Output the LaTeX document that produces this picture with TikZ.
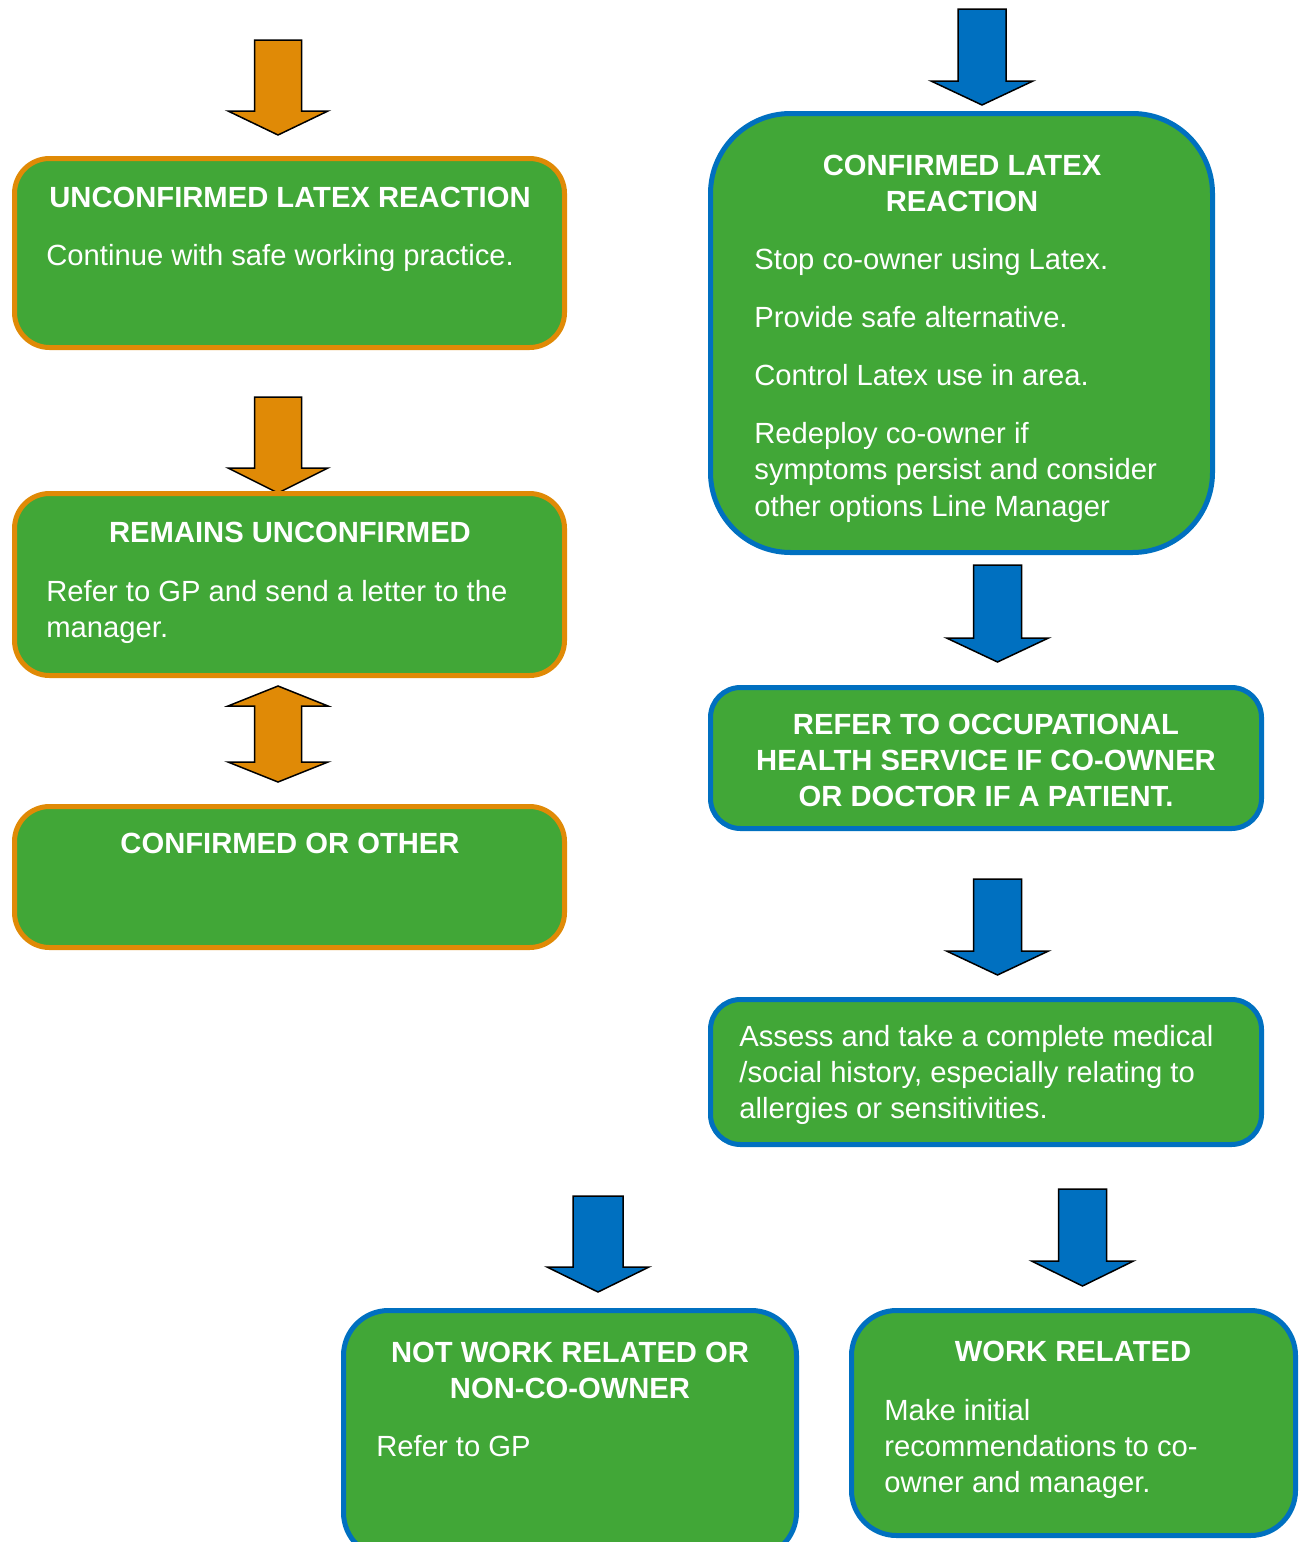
\documentclass[tikz,border=0pt]{standalone}
\usepackage{fontspec}
\setmainfont{Liberation Sans}
\definecolor{boxgreen}{RGB}{65,167,55}
\definecolor{aorange}{RGB}{224,138,6}
\definecolor{ablue}{RGB}{0,112,192}
\tikzset{
  flowbox/.style={rectangle, fill=boxgreen, line width=2.5pt, inner sep=0pt},
  obox/.style={flowbox, draw=aorange, rounded corners=17.5pt},
  bbox/.style={flowbox, draw=ablue},
  ttl/.style={text=white, font=\bfseries\fontsize{14.6pt}{18pt}\selectfont, inner sep=0pt, anchor=base},
  txt/.style={text=white, font=\fontsize{14.6pt}{18pt}\selectfont, inner sep=0pt, anchor=base west},
  blockarrow/.style={draw=black, line width=0.75pt, line join=miter},
}
% down block arrow: #1 colour, #2 cx, #3 top, #4 head base, #5 tip, #6 shaft half width, #7 head half width
\newcommand\downarrowblock[7]{%
  \draw[blockarrow, fill=#1] (#2-#6,#3) -- (#2+#6,#3) -- (#2+#6,#4) -- (#2+#7,#4)
    -- (#2,#5) -- (#2-#7,#4) -- (#2-#6,#4) -- cycle;}
\begin{document}
\begin{tikzpicture}[x=0.5pt,y=-0.5pt]
\useasboundingbox (0,0) rectangle (1301,1542);
\clip (0,0) rectangle (1301,1542);

% ---------- left column ----------
\downarrowblock{aorange}{278}{40}{111}{135}{23.5}{50}
\node[obox, minimum width=275pt, minimum height=94.5pt] (b1) at (289.5,253) {};
\node[ttl] (b1t) at (290,207) {UNCONFIRMED LATEX REACTION};
\node[txt] (b1a) at (46,265) {Continue with safe working practice.};

\downarrowblock{aorange}{278}{397}{468}{493}{23.5}{50}
\node[obox, minimum width=275pt, minimum height=91pt] (b2) at (289.5,584.5) {};
\node[ttl] (b2t) at (290,542) {REMAINS UNCONFIRMED};
\node[txt] (b2a) at (46,601) {Refer to GP and send a letter to the};
\node[txt] (b2b) at (46,637) {manager.};

\draw[blockarrow, fill=aorange] (278,686) -- (328,706) -- (301.5,706) -- (301.5,762) -- (328,762)
  -- (278,782) -- (228,762) -- (254.5,762) -- (254.5,706) -- (228,706) -- cycle;
\node[obox, minimum width=275pt, minimum height=70.5pt] (b3) at (289.5,877) {};
\node[ttl] (b3t) at (290,853) {CONFIRMED OR OTHER};

% ---------- right column ----------
\downarrowblock{ablue}{982}{9}{81}{105}{24}{51}
\node[bbox, rounded corners=40pt, minimum width=251pt, minimum height=219.5pt] (c1) at (961.5,333) {};
\node[ttl] (c1t) at (962,175) {CONFIRMED LATEX};
\node[ttl] (c1u) at (962,211) {REACTION};
\node[txt] (c1a) at (754,269) {Stop co-owner using Latex.};
\node[txt] (c1b) at (754,327) {Provide safe alternative.};
\node[txt] (c1c) at (754,385) {Control Latex use in area.};
\node[txt] (c1d) at (754,443) {Redeploy co-owner if};
\node[txt] (c1e) at (754,479) {symptoms persist and consider};
\node[txt] (c1f) at (754,516) {other options Line Manager};

\downarrowblock{ablue}{997.5}{565}{638}{662}{24}{51}
\node[bbox, rounded corners=15pt, minimum width=275.5pt, minimum height=70.5pt] (c2) at (986,758) {};
\node[ttl] (c2t) at (986,734) {REFER TO OCCUPATIONAL};
\node[ttl] (c2u) at (986,770) {HEALTH SERVICE IF CO-OWNER};
\node[ttl] (c2v) at (986,806) {OR DOCTOR IF A PATIENT.};

\downarrowblock{ablue}{997.5}{879}{951}{975}{24}{51}
\node[bbox, rounded corners=15pt, minimum width=275.5pt, minimum height=72.5pt] (c3) at (986,1072) {};
\node[txt] (c3a) at (739,1046) {Assess and take a complete medical};
\node[txt] (c3b) at (739,1082) {/social history, especially relating to};
\node[txt] (c3c) at (739,1118) {allergies or sensitivities.};

% ---------- bottom row ----------
\downarrowblock{ablue}{598}{1196}{1267}{1292}{25}{51}
\downarrowblock{ablue}{1082.5}{1189}{1261}{1286}{24}{51}

\node[bbox, rounded corners=22.5pt, minimum width=226.5pt, minimum height=123.5pt] (d1) at (570,1434) {};
\node[ttl] (d1t) at (570,1362) {NOT WORK RELATED OR};
\node[ttl] (d1u) at (570,1398) {NON-CO-OWNER};
\node[txt] (d1a) at (376,1456) {Refer to GP};

\node[bbox, rounded corners=22.5pt, minimum width=222pt, minimum height=112.5pt] (d2) at (1073.5,1423) {};
\node[ttl] (d2t) at (1073,1361) {WORK RELATED};
\node[txt] (d2a) at (884,1420) {Make initial};
\node[txt] (d2b) at (884,1456) {recommendations to co-};
\node[txt] (d2c) at (884,1492) {owner and manager.};
\end{tikzpicture}
\end{document}
